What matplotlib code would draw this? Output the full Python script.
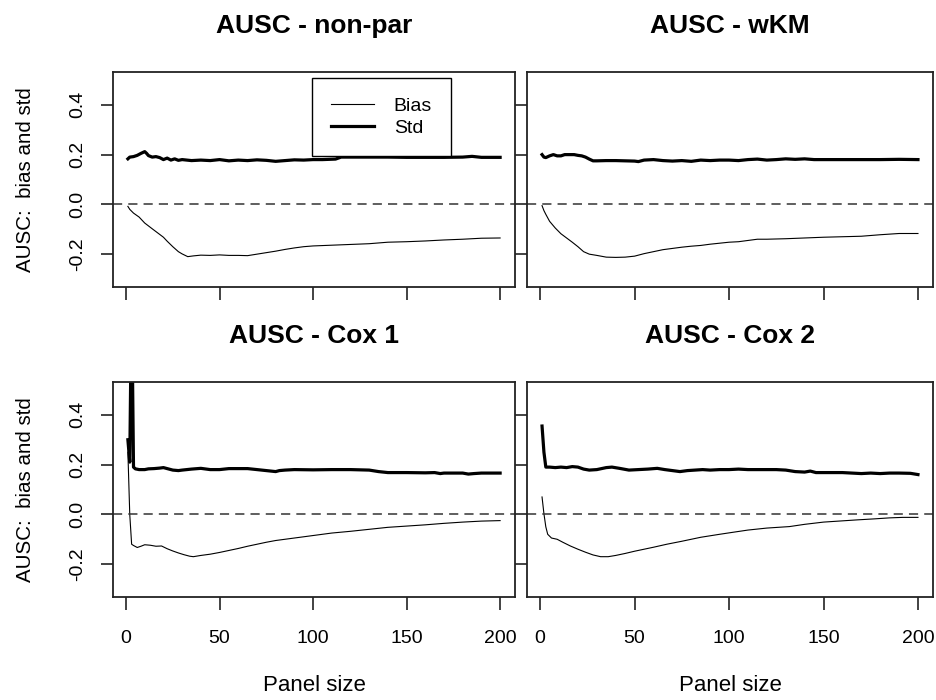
import matplotlib
matplotlib.use("Agg")
import matplotlib.pyplot as plt

plt.rcParams['font.family'] = ['Liberation Sans', 'DejaVu Sans']

# panel size values and the bias / std
titles = ['AUSC - non-par', 'AUSC - wKM', 'AUSC - Cox 1', 'AUSC - Cox 2']

np_std_x = [1, 2, 4, 6, 8, 10, 11, 12, 14, 16, 18, 20, 22, 24, 26, 28, 30, 35, 40, 45, 50, 55, 60, 65, 70,
            75, 80, 85, 90, 95, 100, 105, 112, 115, 120, 130, 140, 150, 160, 170, 180, 185, 190, 200]
np_std = [0.183, 0.19, 0.192, 0.197, 0.205, 0.212, 0.205, 0.196, 0.19, 0.192, 0.188, 0.18, 0.186, 0.178,
          0.183, 0.177, 0.18, 0.176, 0.178, 0.176, 0.18, 0.175, 0.178, 0.176, 0.179, 0.177, 0.173, 0.176,
          0.179, 0.178, 0.18, 0.18, 0.182, 0.19, 0.19, 0.19, 0.19, 0.189, 0.189, 0.189, 0.19, 0.193, 0.189, 0.189]
np_bias_x = [1, 2, 4, 7, 10, 14, 17, 20, 22, 25, 28, 30, 33, 36, 40, 45, 50, 55, 60, 65, 70, 75, 80, 85, 90,
             95, 100, 110, 120, 130, 140, 150, 160, 170, 180, 190, 200]
np_bias = [-0.008, -0.02, -0.035, -0.051, -0.075, -0.098, -0.115, -0.132, -0.148, -0.17, -0.19, -0.199,
           -0.21, -0.207, -0.204, -0.205, -0.203, -0.205, -0.205, -0.206, -0.2, -0.194, -0.188, -0.181,
           -0.175, -0.17, -0.167, -0.164, -0.161, -0.158, -0.152, -0.15, -0.147, -0.143, -0.14, -0.136, -0.135]

wkm_std_x = [1, 2, 3, 5, 7, 9, 11, 13, 15, 18, 20, 22, 24, 26, 28, 30, 35, 40, 45, 50, 52, 55, 60, 65, 70,
             75, 80, 85, 90, 95, 100, 105, 110, 115, 120, 125, 130, 135, 140, 145, 150, 160, 170, 180, 190, 200]
wkm_std = [0.2, 0.19, 0.188, 0.195, 0.2, 0.195, 0.195, 0.2, 0.2, 0.2, 0.197, 0.195, 0.19, 0.182, 0.175,
           0.175, 0.176, 0.176, 0.175, 0.174, 0.172, 0.178, 0.18, 0.176, 0.174, 0.176, 0.173, 0.178, 0.176,
           0.178, 0.178, 0.176, 0.18, 0.182, 0.178, 0.18, 0.183, 0.181, 0.183, 0.18, 0.18, 0.18, 0.18, 0.18,
           0.181, 0.18]
wkm_bias_x = [1, 2, 3, 5, 8, 11, 14, 17, 20, 23, 26, 30, 35, 40, 45, 50, 55, 60, 65, 70, 75, 80, 85, 90, 95,
              100, 105, 110, 115, 120, 130, 140, 150, 160, 170, 180, 190, 200]
wkm_bias = [-0.005, -0.025, -0.04, -0.068, -0.095, -0.118, -0.135, -0.152, -0.17, -0.19, -0.2, -0.205,
            -0.212, -0.213, -0.212, -0.208, -0.198, -0.19, -0.182, -0.177, -0.172, -0.168, -0.165, -0.16,
            -0.156, -0.152, -0.15, -0.145, -0.14, -0.14, -0.138, -0.135, -0.132, -0.13, -0.128, -0.122,
            -0.117, -0.117]

cox1_std_x = [1, 2, 3, 4, 5, 7, 10, 12, 15, 18, 20, 22, 25, 28, 30, 35, 40, 45, 50, 55, 60, 65, 70, 75, 80,
              82, 85, 90, 100, 110, 120, 130, 135, 140, 150, 160, 165, 168, 170, 180, 183, 186, 190, 200]
cox1_std = [0.30, 0.21, 0.9, 0.19, 0.183, 0.18, 0.18, 0.183, 0.184, 0.186, 0.188, 0.184, 0.178, 0.176,
            0.178, 0.182, 0.185, 0.18, 0.18, 0.184, 0.184, 0.184, 0.18, 0.176, 0.172, 0.176, 0.178, 0.18,
            0.179, 0.18, 0.18, 0.178, 0.172, 0.168, 0.168, 0.167, 0.168, 0.164, 0.166, 0.166, 0.162, 0.164,
            0.166, 0.166]
cox1_bias_x = [1, 2, 3, 4, 6, 8, 10, 13, 16, 19, 22, 25, 28, 31, 34, 36, 40, 45, 50, 55, 60, 65, 70, 75, 80,
               85, 90, 95, 100, 110, 120, 130, 140, 150, 160, 170, 180, 190, 200]
cox1_bias = [0.25, 0.0, -0.12, -0.125, -0.133, -0.128, -0.122, -0.124, -0.128, -0.127, -0.138, -0.147,
             -0.155, -0.162, -0.168, -0.17, -0.165, -0.16, -0.153, -0.145, -0.137, -0.128, -0.12, -0.112,
             -0.105, -0.1, -0.095, -0.09, -0.085, -0.075, -0.068, -0.06, -0.052, -0.047, -0.042, -0.036,
             -0.031, -0.027, -0.025]

cox2_std_x = [1, 2, 3, 5, 8, 11, 14, 17, 20, 23, 26, 30, 35, 38, 42, 47, 52, 57, 62, 66, 70, 74, 78, 82, 86,
              90, 95, 100, 105, 110, 115, 120, 125, 130, 135, 140, 143, 146, 150, 160, 170, 175, 180, 185,
              190, 196, 200]
cox2_std = [0.355, 0.25, 0.19, 0.19, 0.188, 0.19, 0.188, 0.192, 0.19, 0.182, 0.178, 0.18, 0.188, 0.19,
            0.185, 0.178, 0.18, 0.182, 0.185, 0.18, 0.176, 0.172, 0.176, 0.178, 0.18, 0.178, 0.18, 0.18,
            0.182, 0.18, 0.18, 0.18, 0.18, 0.178, 0.172, 0.17, 0.174, 0.168, 0.168, 0.168, 0.164, 0.166,
            0.164, 0.166, 0.166, 0.165, 0.16]
cox2_bias_x = [1, 2, 3, 4, 6, 9, 12, 16, 20, 24, 28, 32, 36, 40, 45, 50, 55, 60, 67, 75, 85, 95, 102, 110,
               120, 132, 140, 150, 160, 168, 177, 185, 192, 200]
cox2_bias = [0.07, 0.003, -0.05, -0.08, -0.095, -0.1, -0.112, -0.127, -0.14, -0.152, -0.163, -0.17, -0.17,
             -0.165, -0.157, -0.148, -0.14, -0.132, -0.12, -0.108, -0.092, -0.08, -0.072, -0.063, -0.055,
             -0.049, -0.04, -0.031, -0.026, -0.022, -0.018, -0.014, -0.012, -0.012]

series = [(np_bias_x, np_bias, np_std_x, np_std),
          (wkm_bias_x, wkm_bias, wkm_std_x, wkm_std),
          (cox1_bias_x, cox1_bias, cox1_std_x, cox1_std),
          (cox2_bias_x, cox2_bias, cox2_std_x, cox2_std)]

xticks = [0, 50, 100, 150, 200]
yticks = [-0.2, 0.0, 0.2, 0.4]

fig = plt.figure(figsize=(9.36, 7), dpi=100)
W, H = 936, 700
boxes = [(113, 72, 515, 287), (527, 72, 933, 287), (113, 382, 515, 597), (527, 382, 933, 597)]

for i, (bx, by, sx, sy) in enumerate(series):
    l, t, r, b = boxes[i]
    ax = fig.add_axes([l / W, 1 - b / H, (r - l) / W, (b - t) / H])
    ax.plot(bx, by, color='black', lw=0.8, label='Bias')
    ax.plot(sx, sy, color='black', lw=2.3, label='Std')
    ax.axhline(0, color='#333333', lw=1.1, ls=(0, (6, 4)))
    ax.set_xlim(-6.96, 207.96)
    ax.set_ylim(-0.332, 0.532)
    ax.set_xticks(xticks)
    ax.set_yticks(yticks)
    for s in ax.spines.values():
        s.set_linewidth(1.3)
        s.set_color('#222222')
    ax.tick_params(length=9, width=1.2, color='#222222', labelsize=14)
    ax.tick_params(axis='y', pad=10)
    ax.tick_params(axis='x', pad=15)
    ax.set_title(titles[i], fontsize=19, fontweight='bold', pad=28)
    if i < 2:
        ax.tick_params(labelbottom=False)
    else:
        ax.set_xlabel('Panel size', fontsize=16, labelpad=20)
    if i % 2 == 1:
        ax.tick_params(labelleft=False)
    else:
        ax.set_yticklabels(['-0.2', '0.0', '0.2', '0.4'], rotation=90, va='center')
        ax.set_ylabel('AUSC:  bias and std', fontsize=14.8, labelpad=25)
    if i == 0:
        leg = ax.legend(loc='upper left', bbox_to_anchor=(0.495, 0.972), fontsize=14,
                        fancybox=False, edgecolor='black', framealpha=1, borderpad=1.0,
                        borderaxespad=0, handlelength=2.2, handletextpad=1.0, labelspacing=0.2)
        leg.get_frame().set_linewidth(1.0)

fig.savefig('out.png', dpi=100)
